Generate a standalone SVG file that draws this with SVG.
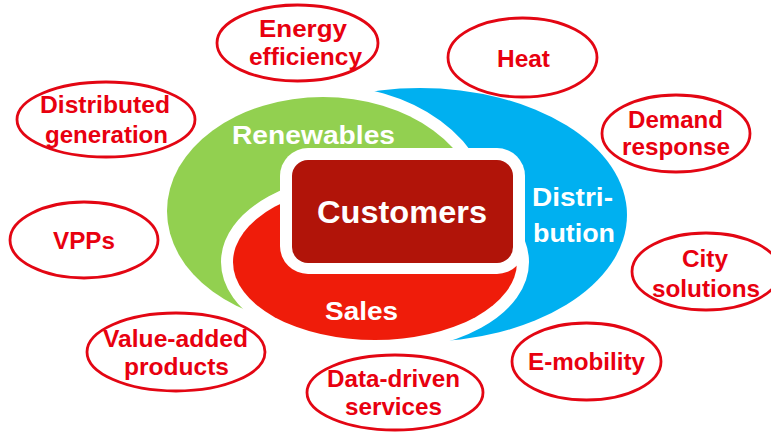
<svg xmlns="http://www.w3.org/2000/svg" width="771" height="432" viewBox="0 0 771 432">
<style>
.bub ellipse{fill:#fff;stroke:#e30613;stroke-width:2.8}
.bub text{font-family:"Liberation Sans",Arial,sans-serif;font-weight:bold;font-size:24px;fill:#e8000f;text-anchor:middle}
.core{stroke:#fff;stroke-width:24;paint-order:stroke}
.lbl{font-family:"Liberation Sans",Arial,sans-serif;font-weight:bold;fill:#fff;text-anchor:middle}
</style>
<rect width="771" height="432" fill="#fff"/>
<g id="core">
  <ellipse id="distribution" cx="420" cy="215" rx="207" ry="127" fill="#00b0f0"/>
  <ellipse id="renewables" class="core" cx="323" cy="211" rx="156" ry="114" fill="#92d050"/>
  <ellipse id="sales" class="core" cx="375" cy="262" rx="142" ry="78" fill="#ef1c0a"/>
  <g id="customers">
    <rect x="280" y="148" width="245" height="126" rx="28" fill="#fff"/>
    <rect x="292" y="160" width="221" height="103" rx="16" fill="#b11409"/>
    <text class="lbl" x="402" y="223" font-size="32" textLength="170" lengthAdjust="spacingAndGlyphs">Customers</text>
  </g>
  <text class="lbl" x="313.5" y="144" font-size="25" textLength="163" lengthAdjust="spacingAndGlyphs">Renewables</text>
  <text class="lbl" x="361.5" y="320" font-size="26" textLength="73" lengthAdjust="spacingAndGlyphs">Sales</text>
  <text class="lbl" x="572.5" y="206" font-size="25" textLength="81" lengthAdjust="spacingAndGlyphs">Distri-</text>
  <text class="lbl" x="574" y="242" font-size="25" textLength="82" lengthAdjust="spacingAndGlyphs">bution</text>
</g>
<g id="energy-efficiency" class="bub">
  <ellipse cx="297.5" cy="43" rx="80.5" ry="38"/>
  <text x="303" y="37" textLength="88" lengthAdjust="spacingAndGlyphs">Energy</text>
  <text x="305.5" y="65" textLength="113" lengthAdjust="spacingAndGlyphs">efficiency</text>
</g>
<g id="distributed-generation" class="bub">
  <ellipse cx="106" cy="119.5" rx="89" ry="37.5"/>
  <text x="105" y="113" textLength="130" lengthAdjust="spacingAndGlyphs">Distributed</text>
  <text x="106.5" y="143" textLength="123" lengthAdjust="spacingAndGlyphs">generation</text>
</g>
<g id="heat" class="bub">
  <ellipse cx="522.5" cy="57.5" rx="74.5" ry="39.5"/>
  <text x="523.5" y="67" textLength="53" lengthAdjust="spacingAndGlyphs">Heat</text>
</g>
<g id="demand-response" class="bub">
  <ellipse cx="676" cy="133.5" rx="74" ry="38.5"/>
  <text x="675.5" y="128" textLength="95" lengthAdjust="spacingAndGlyphs">Demand</text>
  <text x="676" y="155" textLength="108" lengthAdjust="spacingAndGlyphs">response</text>
</g>
<g id="vpps" class="bub">
  <ellipse cx="84" cy="240" rx="74" ry="38"/>
  <text x="84" y="249" textLength="62" lengthAdjust="spacingAndGlyphs">VPPs</text>
</g>
<g id="city-solutions" class="bub">
  <ellipse cx="706" cy="271.5" rx="74" ry="38.5"/>
  <text x="705" y="267" textLength="46" lengthAdjust="spacingAndGlyphs">City</text>
  <text x="706" y="297" textLength="108" lengthAdjust="spacingAndGlyphs">solutions</text>
</g>
<g id="value-added-products" class="bub">
  <ellipse cx="176" cy="352" rx="89" ry="39"/>
  <text x="175.5" y="347" textLength="145" lengthAdjust="spacingAndGlyphs">Value-added</text>
  <text x="176.5" y="375" textLength="105" lengthAdjust="spacingAndGlyphs">products</text>
</g>
<g id="e-mobility" class="bub">
  <ellipse cx="586.5" cy="361.5" rx="74.5" ry="38.5"/>
  <text x="586.5" y="370" textLength="117" lengthAdjust="spacingAndGlyphs">E-mobility</text>
</g>
<g id="data-driven-services" class="bub">
  <ellipse cx="395" cy="392.5" rx="88" ry="37.5"/>
  <text x="393.5" y="387" textLength="133" lengthAdjust="spacingAndGlyphs">Data-driven</text>
  <text x="393.5" y="415" textLength="97" lengthAdjust="spacingAndGlyphs">services</text>
</g>
<g id="connectors"></g>
</svg>
